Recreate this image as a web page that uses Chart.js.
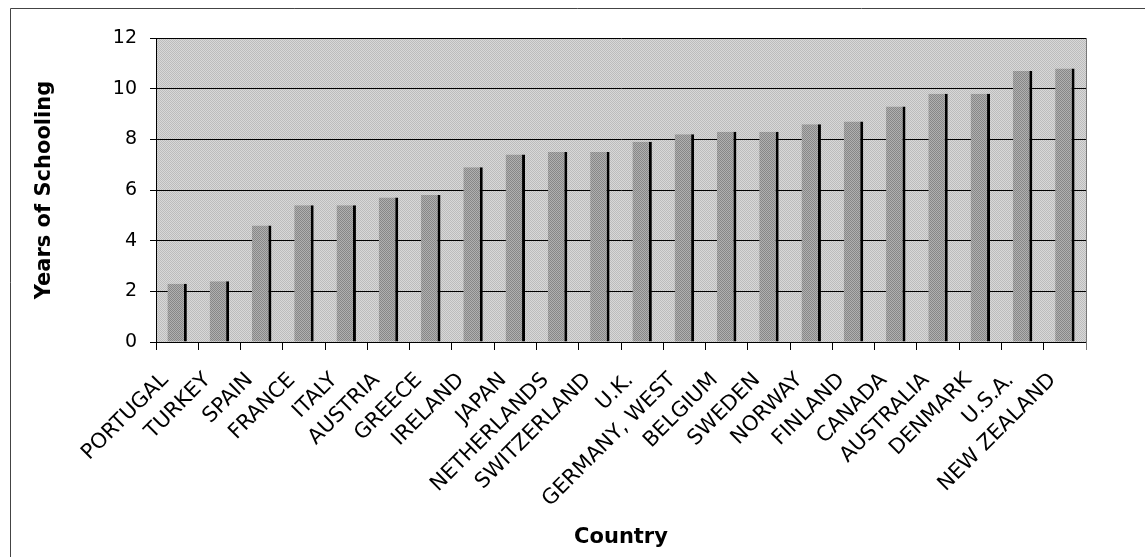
<!DOCTYPE html>
<html>
<head>
<meta charset="utf-8">
<script src="https://cdn.jsdelivr.net/npm/chart.js@4"></script>
<style>
  html, body { margin: 0; padding: 0; background: #fff; }
  #wrap { width: 1145px; height: 557px; }
</style>
</head>
<body>
<div id="wrap"><canvas id="myChart" width="1145" height="557"></canvas></div>
<script>
// countries, sorted by years of schooling
const countries = ["PORTUGAL", "TURKEY", "SPAIN", "FRANCE", "ITALY", "AUSTRIA", "GREECE",
  "IRELAND", "JAPAN", "NETHERLANDS", "SWITZERLAND", "U.K.", "GERMANY, WEST", "BELGIUM",
  "SWEDEN", "NORWAY", "FINLAND", "CANADA", "AUSTRALIA", "DENMARK", "U.S.A.", "NEW ZEALAND"];
const years = [2.3, 2.4, 4.6, 5.4, 5.4, 5.7, 5.8, 6.9, 7.4, 7.5, 7.5, 7.9, 8.2, 8.3,
  8.3, 8.6, 8.7, 9.3, 9.8, 9.8, 10.7, 10.8];
const yTicks = [0, 2, 4, 6, 8, 10, 12];

// small dithered tile so the fills look like the scanned halftone
const makePattern = (c1, c2) => {
  const tile = document.createElement("canvas");
  tile.width = 2; tile.height = 2;
  const t = tile.getContext("2d");
  t.fillStyle = c1; t.fillRect(0, 0, 2, 2);
  t.fillStyle = c2; t.fillRect(0, 0, 1, 1); t.fillRect(1, 1, 1, 1);
  return document.getElementById("myChart").getContext("2d").createPattern(tile, "repeat");
};

// plot background + outer frame
const backdrop = {
  id: "backdrop",
  beforeDraw(chart) {
    const { ctx, chartArea: a } = chart;
    ctx.save();
    ctx.strokeStyle = "#444";
    ctx.lineWidth = 1;
    ctx.beginPath();
    ctx.moveTo(10.5, 557); ctx.lineTo(10.5, 8.5); ctx.lineTo(1145, 8.5);
    ctx.stroke();
    ctx.fillStyle = makePattern("#d8d8d8", "#bcbcbc");
    ctx.fillRect(a.left, a.top, a.right - a.left, a.bottom - a.top);
    ctx.restore();
  },
  afterDraw(chart) {
    const { ctx, chartArea: a } = chart;
    ctx.save();
    ctx.strokeStyle = "#777";
    ctx.beginPath();
    ctx.moveTo(a.right + 0.5, a.top); ctx.lineTo(a.right + 0.5, a.bottom + 8);
    ctx.stroke();
    ctx.restore();
  }
};

const drawChart = () => {
  var ctx = document.getElementById("myChart").getContext("2d");
  var chart = new Chart(ctx, {
    type: "bar",
    data: {
      labels: countries,
      datasets: [
        {
          label: "Years of Schooling",
          data: years,
          backgroundColor: makePattern("#b0b0b0", "#878787"),
          borderColor: "#000",
          borderWidth: { top: 0, left: 0, bottom: 0, right: 3 },
          borderSkipped: false,
          categoryPercentage: 1,
          barPercentage: 0.46,
        },
      ],
    },
    options: {
      responsive: false,
      animation: false,
      layout: { padding: { left: 0, top: 38, right: 59, bottom: 0 } },
      plugins: { legend: { display: false }, tooltip: { enabled: false } },
      scales: {
        x: {
          offset: true,
          grid: { offset: true, drawOnChartArea: false, color: "#000", tickLength: 8 },
          border: { color: "#000" },
          ticks: {
            color: "#000",
            font: { family: "DejaVu Sans", size: 21 },
            minRotation: 45, maxRotation: 45,
            autoSkip: false,
            labelOffset: -12,
            padding: 18,
          },
          title: {
            display: true, text: "Country", color: "#000",
            font: { family: "DejaVu Sans", size: 21, weight: "bold" },
            padding: { top: 0, bottom: 7 },
          },
          afterFit: (s) => { s.height = 215; },
        },
        y: {
          min: 0, max: 12,
          afterBuildTicks: (s) => { s.ticks = yTicks.map((v) => ({ value: v })); },
          grid: { color: "#000", tickLength: 6 },
          border: { color: "#000" },
          ticks: {
            color: "#000",
            font: { family: "DejaVu Sans", size: 19 },
            padding: 13,
          },
          title: {
            display: true, text: "Years of Schooling", color: "#000",
            font: { family: "DejaVu Sans", size: 21, weight: "bold" },
            padding: { top: 32, bottom: 0 },
          },
          afterFit: (s) => { s.width = 156; },
        },
      },
    },
    plugins: [backdrop],
  });
};
drawChart();
</script>
</body>
</html>
